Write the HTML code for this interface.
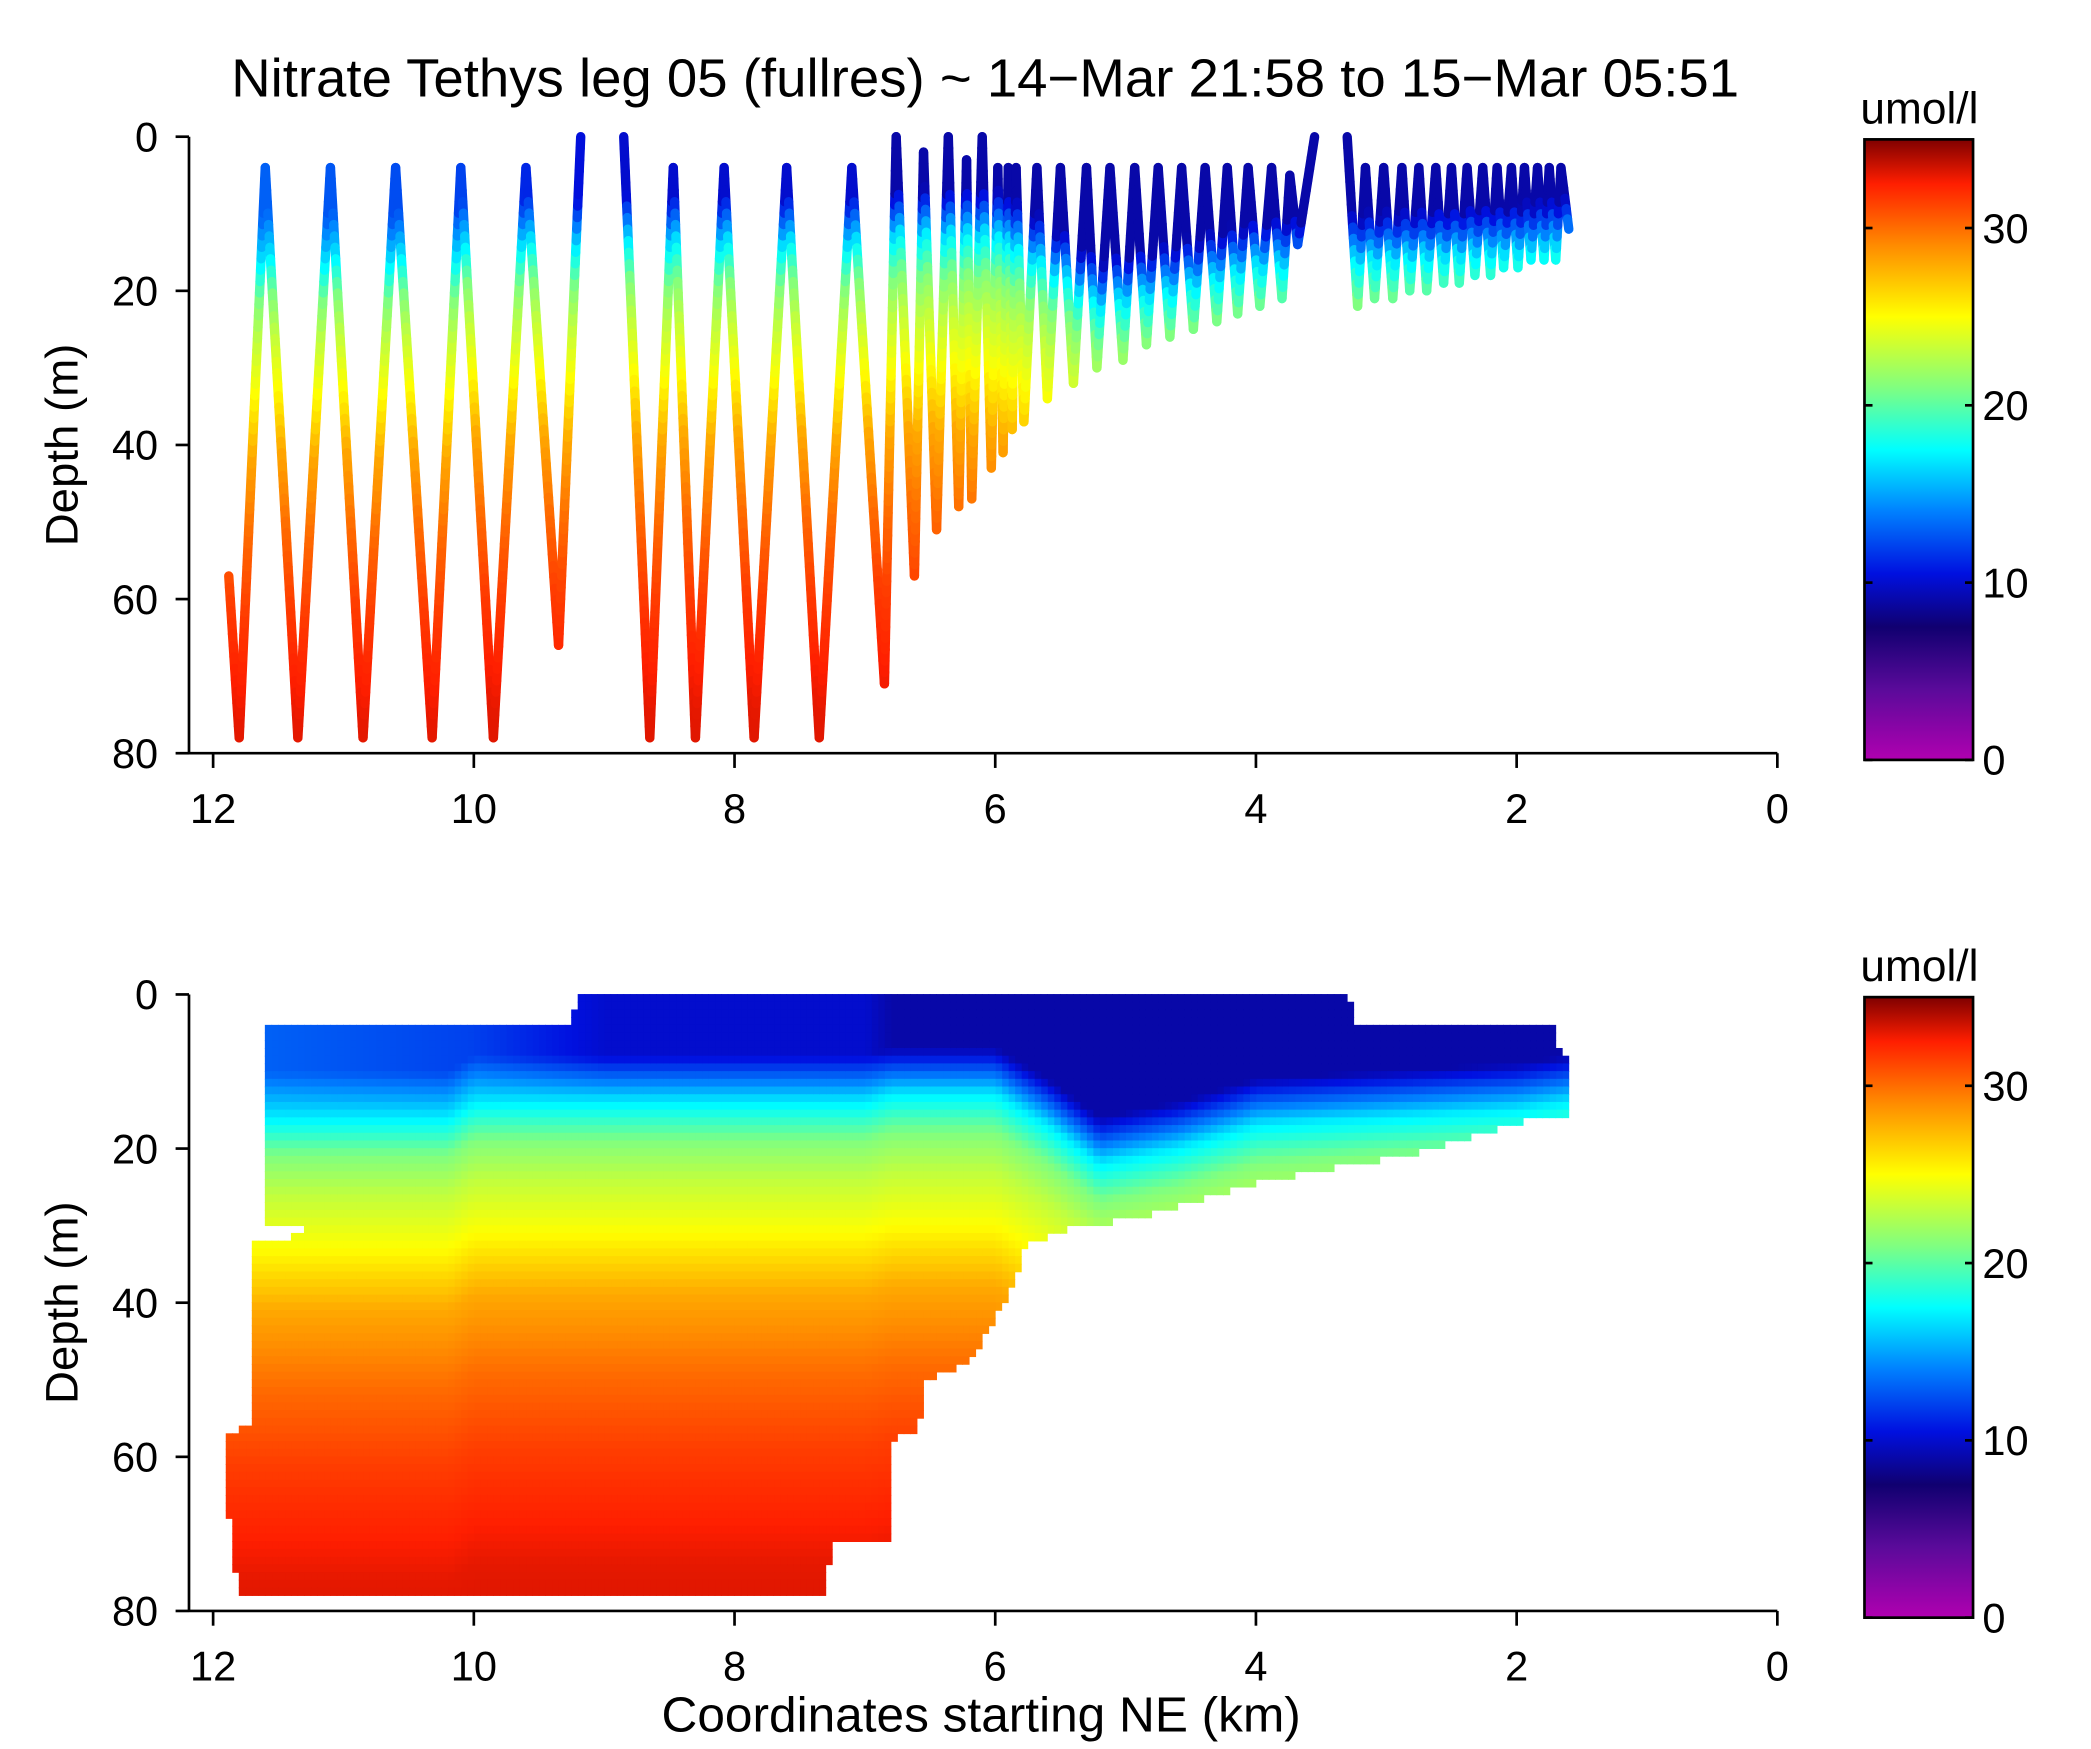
<!DOCTYPE html>
<html><head><meta charset="utf-8"><style>
html,body{margin:0;padding:0;background:#fff}
svg{display:block}
text{font-family:"Liberation Sans",Arial,sans-serif;fill:#000}
</style></head><body>
<svg id="fig" width="2091" height="1749" viewBox="0 0 1560 1305" preserveAspectRatio="none" xmlns="http://www.w3.org/2000/svg">
<defs>
<linearGradient id="cbgrad" x1="0" y1="1" x2="0" y2="0"></linearGradient>
</defs>
<text x="735" y="72" font-size="40" text-anchor="middle" textLength="1125" lengthAdjust="spacingAndGlyphs">Nitrate Tethys leg 05 (fullres) ~ 14−Mar 21:58 to 15−Mar 05:51</text>
<g id="top"></g>
<g id="bot"></g>
</svg>
<script>
// ---- data ----
const trackX = [11.88,11.8,11.6,11.35,11.1,10.85,10.6,10.32,10.1,9.85,9.6,9.35,9.18,null,8.85,8.65,8.47,8.3,8.08,7.85,7.6,7.35,7.1,6.85,6.76,6.62,6.55,6.45,6.36,6.28,6.22,6.18,6.1,6.03,5.98,5.94,5.9,5.87,5.84,5.78,5.68,5.6,5.5,5.4,5.3,5.22,5.12,5.02,4.93,4.84,4.75,4.66,4.57,4.48,4.39,4.3,4.22,4.14,4.06,3.97,3.88,3.8,3.74,3.68,3.55,null,3.3,3.22,3.16,3.09,3.02,2.95,2.88,2.82,2.75,2.69,2.62,2.56,2.5,2.44,2.38,2.32,2.26,2.2,2.15,2.1,2.04,1.99,1.94,1.89,1.84,1.79,1.75,1.7,1.66,1.6];
const trackDepth = [57,78,4,78,4,78,4,78,4,78,4,66,0,null,0,78,4,78,4,78,4,78,4,71,0,57,2,51,0,48,3,47,0,43,4,41,4,38,4,37,4,34,4,32,4,30,4,29,4,27,4,26,4,25,4,24,4,23,4,22,4,21,5,14,0,null,0,22,4,21,4,21,4,20,4,20,4,19,4,19,4,18,4,18,4,17,4,17,4,16,4,16,4,16,4,12];
const clineX = [11.9,11.6,10.2,10,7,6.8,6,5.6,5.2,4.6,4,3,2,1.6];
const clineDepth = [16,16,16,14,14,13,13,17,22,20,17,16,15,14];
const surfX = [11.9,11.6,10,9,7,6.8,1.6];
const surfVal = [13,13,12,10,10,9,9];
const belowOffset = [0,5,10,17,25,35,45,60,80];
const belowVal = [17,21,23,25,28,30,31.5,33,33.5];
const maskX = [11.59,9.26,9.19,3.3,3.22,1.71,1.69,1.6,1.6,1.81,2.32,2.84,3.35,3.87,4.38,4.9,5.41,5.77,5.82,5.87,6.0,6.18,6.54,6.59,6.8,6.8,7.26,7.29,11.8,11.88,11.88,11.72,11.7,11.24,11.32,11.59];
const maskDepth = [3.8,3.8,0,0,3.8,3.8,6.6,8.7,15.5,15.7,18.4,20.9,22.3,24,26.3,29,30.4,32.7,35.3,37.9,42.3,47.5,50,56.7,57.9,70.6,71,77.9,77.9,67.5,56.7,56.3,31.8,31.3,29.6,29.6];
const xTicks = [12,10,8,6,4,2,0];
const yTicks = [0,20,40,60,80];
const cbTicks = [0,10,20,30];
const cmapVal = [0,4,7.5,10.5,14,17.5,21,25,29,32.5,35];
const cmapColor = ['#b000b0','#5a0a9a','#100070','#0010e0','#0080ff','#00ffff','#80ff80','#ffff00','#ff8c00','#ff1e00','#7f0000'];

// ---- helpers ----
const NS='http://www.w3.org/2000/svg';
function el(tag,attrs,parent){const e=document.createElementNS(NS,tag);for(const k in attrs)e.setAttribute(k,attrs[k]);parent.appendChild(e);return e;}
function interp(xs,ys,x){
  if(xs[0]<=xs[xs.length-1]){
    if(x<=xs[0])return ys[0];if(x>=xs[xs.length-1])return ys[ys.length-1];
    for(let i=1;i<xs.length;i++)if(x<=xs[i]){const t=(x-xs[i-1])/(xs[i]-xs[i-1]);return ys[i-1]+t*(ys[i]-ys[i-1]);}
  } else {
    if(x>=xs[0])return ys[0];if(x<=xs[xs.length-1])return ys[ys.length-1];
    for(let i=1;i<xs.length;i++)if(x>=xs[i]){const t=(x-xs[i-1])/(xs[i]-xs[i-1]);return ys[i-1]+t*(ys[i]-ys[i-1]);}
  }
  return ys[ys.length-1];
}
function hex(c){return [parseInt(c.substr(1,2),16),parseInt(c.substr(3,2),16),parseInt(c.substr(5,2),16)];}
function cmap(v){
  v=Math.max(0,Math.min(35,v));
  for(let i=1;i<cmapVal.length;i++)if(v<=cmapVal[i]){const t=(v-cmapVal[i-1])/(cmapVal[i]-cmapVal[i-1]);const a=hex(cmapColor[i-1]),b=hex(cmapColor[i]);return 'rgb('+a.map((q,j)=>Math.round(q+t*(b[j]-q))).join(',')+')';}
  return cmapColor[cmapColor.length-1];
}
function nitrate(x,d){
  const c=interp(clineX,clineDepth,x);
  if(d>=c)return interp(belowOffset,belowVal,d-c);
  const s=interp(surfX,surfVal,x);
  const t=Math.min(1,(c-d)/6);
  return 17-(17-s)*t;
}
function inPoly(x,y){
  let inside=false;
  for(let i=0,j=maskX.length-1;i<maskX.length;j=i++){
    const xi=maskX[i],yi=maskDepth[i],xj=maskX[j],yj=maskDepth[j];
    if(((yi>y)!=(yj>y))&&(x<(xj-xi)*(y-yi)/(yj-yi)+xi))inside=!inside;
  }
  return inside;
}

const svg=document.getElementById('fig');
const grad=document.getElementById('cbgrad');
for(let i=0;i<cmapVal.length;i++){
  el('stop',{offset:(cmapVal[i]/35*100)+'%','stop-color':cmapColor[i]},grad);
}

function panel(g,top,isTop){
  const y0=top, y1=top+460;
  const sx=km=>1326-km*97.25;
  const sy=d=>y0+d*5.75;
  if(isTop){
    for(let i=1;i<trackX.length;i++){
      if(trackX[i]===null||trackX[i-1]===null)continue;
      const xa=trackX[i-1],da=trackDepth[i-1],xb=trackX[i],db=trackDepth[i];
      const n=Math.max(4,Math.ceil(Math.abs(db-da)/1.5));
      for(let k=0;k<n;k++){
        const t0=k/n,t1=(k+1)/n,tm=(k+0.5)/n;
        const ln=el('line',{x1:sx(xa+t0*(xb-xa)),y1:sy(da+t0*(db-da)),x2:sx(xa+t1*(xb-xa)),y2:sy(da+t1*(db-da)),stroke:cmap(nitrate(xa+tm*(xb-xa),da+tm*(db-da))),'stroke-width':7,'stroke-linecap':'round'},g);
        
        
      }
    }
  } else {
    const dx=0.05,dz=1;
    for(let x=0;x<12.2;x+=dx){
      for(let d=0;d<80;d+=dz){
        const cx=x+dx/2,cd=d+dz/2;
        if(!inPoly(cx,cd))continue;
        const r=el('rect',{x:sx(x+dx)-0.3,y:sy(d)-0.3,width:dx*97.25+0.6,height:dz*5.75+0.6,fill:cmap(nitrate(cx,cd))},g);
        
        
      }
    }
  }
  const ya=el('line',{x1:141,y1:y0,x2:141,y2:y1,stroke:'#000','stroke-width':2},g);
  
  const xa=el('line',{x1:141,y1:y1,x2:1326,y2:y1,stroke:'#000','stroke-width':2},g);
  
  yTicks.forEach(v=>{
    el('line',{x1:141,y1:sy(v),x2:131,y2:sy(v),stroke:'#000','stroke-width':2},g);
    const t=el('text',{x:118,y:sy(v)+11,'font-size':31,'text-anchor':'end'},g);t.textContent=v;
    
  });
  xTicks.forEach(v=>{
    el('line',{x1:sx(v),y1:y1,x2:sx(v),y2:y1+11,stroke:'#000','stroke-width':2},g);
    const t=el('text',{x:sx(v),y:y1+52,'font-size':31,'text-anchor':'middle'},g);t.textContent=v;
    
  });
  const yl=el('text',{x:0,y:0,'font-size':34,'text-anchor':'middle',transform:'translate(58,'+(y0+230)+') rotate(-90)'},g);
  yl.textContent='Depth (m)';
  
  const cbTop=y0+2, cbBot=y0+465;
  const cb=el('rect',{x:1391,y:cbTop,width:81,height:cbBot-cbTop,fill:'url(#cbgrad)',stroke:'#000','stroke-width':2},g);
  
  cbTicks.forEach(v=>{
    const yy=cbBot-v*(cbBot-cbTop)/35;
    el('line',{x1:1391,y1:yy,x2:1397,y2:yy,stroke:'#000','stroke-width':2},g);
    el('line',{x1:1466,y1:yy,x2:1472,y2:yy,stroke:'#000','stroke-width':2},g);
    const t=el('text',{x:1479,y:yy+11,'font-size':31},g);t.textContent=v;
    
  });
  const u=el('text',{x:1432,y:y0-10,'font-size':33,'text-anchor':'middle'},g);u.textContent='umol/l';
  
}
panel(document.getElementById('top'),102,true);
panel(document.getElementById('bot'),742,false);
const xt=el('text',{x:732,y:1292,'font-size':37,'text-anchor':'middle'},svg);
xt.textContent='Coordinates starting NE (km)';


</script>
</body></html>
